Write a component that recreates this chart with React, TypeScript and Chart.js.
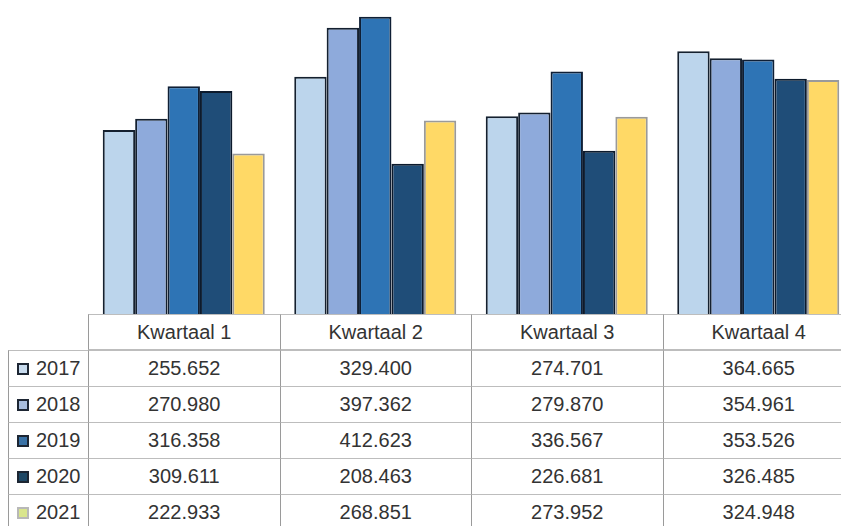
import React, { useEffect, useRef } from "react";
import { Chart, registerables } from "chart.js";

Chart.register(...registerables);

const categories = ["Kwartaal 1", "Kwartaal 2", "Kwartaal 3", "Kwartaal 4"];
const years = ["2017", "2018", "2019", "2020", "2021"];
const values2017 = [255652, 329400, 274701, 364665];
const values2018 = [270980, 397362, 279870, 354961];
const values2019 = [316358, 412623, 336567, 353526];
const values2020 = [309611, 208463, 226681, 326485];
const values2021 = [222933, 268851, 273952, 324948];
const seriesValues = [values2017, values2018, values2019, values2020, values2021];

const barColors = ["#bcd5ec", "#8eaadb", "#2e74b5", "#1f4d78", "#ffd966"];
const barBorders = ["#14202f", "#14202f", "#0f1f35", "#0c1a2c", "#9a9a9a"];
const legendColors = ["#c8dbee", "#a8bddd", "#3a72a6", "#1e4866", "#d9e58c"];
const legendBorders = ["#1d2633", "#1d2633", "#1d2633", "#1d2633", "#b8b8b8"];

const fmt = (v: number) => {
  const t = Math.floor(v / 1000);
  const r = String(v % 1000).padStart(3, "0");
  return `${t}.${r}`;
};

const LEFT = 88;
const COL_W = 191.5;
const TOP = 314;
const ROW_H = 36;
const LABEL_LEFT = 8;

export default function App() {
  const ref = useRef<HTMLCanvasElement | null>(null);

  useEffect(() => {
    if (!ref.current) return;
    const chart = new Chart(ref.current, {
      type: "bar",
      data: {
        labels: categories,
        datasets: years.map((y, i) => ({
          label: y,
          data: seriesValues[i],
          backgroundColor: barColors[i],
          borderColor: barBorders[i],
          borderWidth: 2,
          categoryPercentage: 0.846,
          barPercentage: 1,
        })),
      },
      options: {
        animation: false,
        responsive: true,
        maintainAspectRatio: false,
        layout: { padding: 0 },
        plugins: { legend: { display: false }, tooltip: { enabled: false } },
        scales: {
          x: { display: false },
          y: { display: false, min: 0, max: 436000 },
        },
      },
    });
    return () => chart.destroy();
  }, []);

  const font = '"Liberation Sans", Arial, sans-serif';
  const vLine = "1px solid #9a9a9a";
  const hLine = "1px solid #bdbdbd";

  return (
    <div
      style={{
        position: "fixed",
        left: 0,
        top: 0,
        width: 841,
        height: 526,
        overflow: "hidden",
        background: "#fff",
        fontFamily: font,
      }}
    >
      <div style={{ position: "absolute", left: LEFT, top: 0, width: COL_W * 4, height: TOP }}>
        <canvas ref={ref} />
      </div>
      {categories.map((c, i) => (
        <div
          key={c}
          style={{
            position: "absolute",
            left: LEFT + i * COL_W,
            top: TOP,
            width: COL_W,
            height: ROW_H,
            boxSizing: "border-box",
            borderLeft: vLine,
            borderTop: hLine,
            borderBottom: hLine,
            display: "flex",
            alignItems: "center",
            justifyContent: "center",
            fontSize: 20,
            color: "#333",
          }}
        >
          {c}
        </div>
      ))}
      {years.map((y, r) => (
        <React.Fragment key={y}>
          <div
            style={{
              position: "absolute",
              left: LABEL_LEFT,
              top: TOP + ROW_H * (r + 1),
              width: LEFT - LABEL_LEFT,
              height: ROW_H,
              boxSizing: "border-box",
              borderLeft: vLine,
              borderTop: hLine,
              display: "flex",
              alignItems: "center",
              fontSize: 20,
              color: "#333",
            }}
          >
            <span
              style={{
                display: "inline-block",
                width: 12,
                height: 12,
                boxSizing: "border-box",
                marginLeft: 8,
                marginRight: 7,
                background: legendColors[r],
                border: `2px solid ${legendBorders[r]}`,
              }}
            />
            {y}
          </div>
          {categories.map((c, i) => (
            <div
              key={c}
              style={{
                position: "absolute",
                left: LEFT + i * COL_W,
                top: TOP + ROW_H * (r + 1),
                width: COL_W,
                height: ROW_H,
                boxSizing: "border-box",
                borderLeft: vLine,
                borderTop: hLine,
                display: "flex",
                alignItems: "center",
                justifyContent: "center",
                fontSize: 20,
                color: "#333",
              }}
            >
              {fmt(seriesValues[r][i])}
            </div>
          ))}
        </React.Fragment>
      ))}
    </div>
  );
}
